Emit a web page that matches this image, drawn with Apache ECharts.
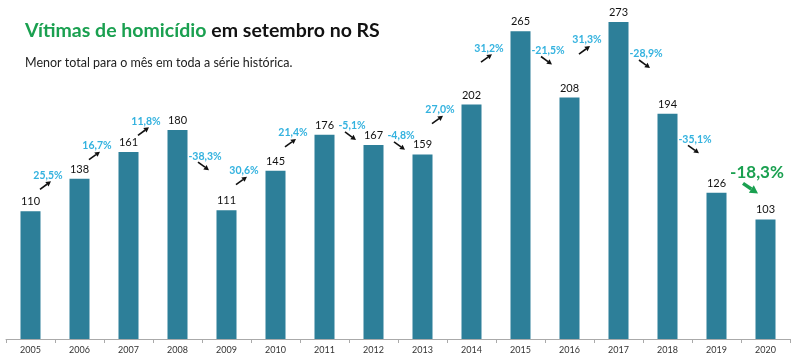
<!DOCTYPE html>
<html><head><meta charset="utf-8">
<script src="https://cdn.jsdelivr.net/npm/echarts@6/dist/echarts.min.js"></script>
<style>html,body{margin:0;padding:0;background:#fff}#c{width:800px;height:359px}</style>
</head><body><div id="c"></div>
<script>
var years = ['2005','2006','2007','2008','2009','2010','2011','2012','2013','2014','2015','2016','2017','2018','2019','2020'];
var victims = [110,138,161,180,111,145,176,167,159,202,265,208,273,194,126,103];
var changes = ['25,5%','16,7%','11,8%','-38,3%','30,6%','21,4%','-5,1%','-4,8%','27,0%','31,2%','-21,5%','31,3%','-28,9%','-35,1%','-18,3%'];

var FONT = 'Lato, "Open Sans", sans-serif';
var annData = [];
for (var i = 1; i < years.length; i++) {
  annData.push([i, (victims[i - 1] + victims[i]) / 2, changes[i - 1], victims[i] >= victims[i - 1] ? 1 : -1]);
}
function arrow(x1, y1, x2, y2, color, w, head) {
  var ang = Math.atan2(y2 - y1, x2 - x1);
  var hx = x2, hy = y2;
  var bx = x2 - head * Math.cos(ang), by = y2 - head * Math.sin(ang);
  var px = -Math.sin(ang) * head * 0.55, py = Math.cos(ang) * head * 0.55;
  return [
    {type: 'line', shape: {x1: x1, y1: y1, x2: bx, y2: by}, style: {stroke: color, lineWidth: w}},
    {type: 'polygon', shape: {points: [[hx, hy], [bx + px, by + py], [bx - px, by - py]]}, style: {fill: color}}
  ];
}
var chart = echarts.init(document.getElementById('c'), null, {renderer: 'canvas'});
chart.setOption({
  animation: false,
  backgroundColor: '#fff',
  title: [{
    left: 25, top: 21, padding: 0,
    text: '{g|Vítimas de homicídio} {b|em setembro no RS}',
    textStyle: {rich: {
      g: {fontFamily: FONT, fontSize: 19.5, fontWeight: 'bold', color: '#1aa050'},
      b: {fontFamily: FONT, fontSize: 19.5, fontWeight: 'bold', color: '#111'}
    }}
  }, {
    left: 25, top: 56, padding: 0,
    text: 'Menor total para o mês em toda a série histórica.',
    textStyle: {fontFamily: FONT, fontSize: 12.5, fontWeight: 'normal', color: '#222'}
  }],
  grid: {left: 6, right: 10, top: 0, bottom: 20},
  xAxis: {
    type: 'category', data: years,
    axisLine: {lineStyle: {color: '#aaa'}},
    axisTick: {show: true, alignWithLabel: false, length: 4, lineStyle: {color: '#aaa'}},
    axisLabel: {fontFamily: FONT, fontSize: 9, color: '#333', margin: 7}
  },
  yAxis: {type: 'value', min: 0, max: 292, show: false, splitLine: {show: false}},
  series: [{
    type: 'bar', data: victims, barWidth: 20,
    itemStyle: {color: '#2d7f99'},
    label: {show: true, position: 'top', distance: 4, fontFamily: FONT, fontSize: 11, color: '#111'}
  }, {
    type: 'custom', data: annData, z: 10,
    encode: {x: 0, y: 1},
    renderItem: function (params, api) {
      var i = api.value(0), dir = api.value(3);
      var last = params.dataIndex === annData.length - 1;
      var v = api.value(1) + (dir > 0 ? 17 : 12);
      if (last) v = api.value(1) + 29;
      var p0 = api.coord([i - 1, v]), p1 = api.coord([i, v]);
      var bx = (p0[0] + p1[0]) / 2, cy = p1[1];
      var text = annData[params.dataIndex][2];
      var children = [];
      var cx;
      if (last) {
        cx = bx + 16;
        children.push({type: 'text', style: {x: cx, y: cy, text: text, align: 'center', verticalAlign: 'middle',
          font: 'bold 17px ' + FONT, fill: '#1aa050'}});
        children = children.concat(arrow(cx - 14, cy + 11, cx + 1, cy + 21, '#1aa050', 3.5, 8));
      } else if (dir > 0) {
        cx = bx - 7;
        children.push({type: 'text', style: {x: cx, y: cy, text: text, align: 'center', verticalAlign: 'middle',
          font: 'bold 10.5px ' + FONT, fill: '#33b2df'}});
        children = children.concat(arrow(cx - 8, cy + 14, cx + 3, cy + 6, '#111', 1.6, 5));
      } else {
        cx = bx + 3;
        children.push({type: 'text', style: {x: cx, y: cy, text: text, align: 'center', verticalAlign: 'middle',
          font: 'bold 10.5px ' + FONT, fill: '#33b2df'}});
        children = children.concat(arrow(cx - 7, cy + 6, cx + 4, cy + 14, '#111', 1.6, 5));
      }
      return {type: 'group', children: children};
    }
  }]
});
</script></body></html>
